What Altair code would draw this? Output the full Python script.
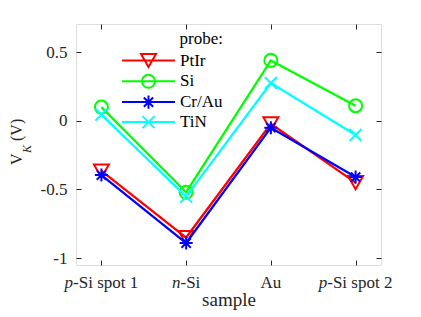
import altair as alt
import pandas as pd

# ---------------- data ----------------
samples = ["p-Si spot 1", "n-Si", "Au", "p-Si spot 2"]
sample_prefix = ["p", "n", "", "p"]          # italic part of each tick label
sample_rest = ["-Si spot 1", "-Si", "Au", "-Si spot 2"]
probes = ["PtIr", "Si", "Cr/Au", "TiN"]
v_ptir = [-0.365, -0.85, -0.022, -0.45]
v_si = [0.10, -0.52, 0.44, 0.11]
v_crau = [-0.395, -0.89, -0.05, -0.41]
v_tin = [0.045, -0.552, 0.275, -0.103]
colors = ["#ff0000", "#00ff00", "#0000ff", "#00ffff"]
y_ticks = [-1, -0.5, 0, 0.5]

# marker paths (unit coordinates, scaled by sqrt(size)/2)
marker_paths = [
    "M-1,-0.87L1,-0.87L0,0.87Z",
    "M0.87,0A0.87,0.87,0,1,1,-0.87,0A0.87,0.87,0,1,1,0.87,0Z",
    "M0,-0.87L0,0.87M-0.87,0L0.87,0M-0.62,-0.62L0.62,0.62M-0.62,0.62L0.62,-0.62",
    "M-0.8,-0.8L0.8,0.8M-0.8,0.8L0.8,-0.8",
]
legend_line = "M-3.53,0L3.53,0"
legend_paths = [legend_line + p for p in marker_paths]

W, H = 305, 241
X_DOM = [0.7, 4.3]
Y_DOM = [-1.05, 0.705]
FONT = "Liberation Serif"
AX = "#262626"
TICK_FS = 17

series = [v_ptir, v_si, v_crau, v_tin]
rows = []
for p, vals in zip(probes, series):
    for i, (s, v) in enumerate(zip(samples, vals)):
        rows.append({"probe": p, "sample": s, "idx": i + 1, "v": v})
df = pd.DataFrame(rows)

# approximate Times advance widths (per em) to center the two-style tick labels
REG = {"-": .333, "S": .556, "i": .278, " ": .25, "s": .389, "p": .5, "o": .5,
       "t": .278, "1": .5, "2": .5, "A": .722, "u": .5, "n": .5}
ITA = {"p": .5, "n": .5}
ppu = W / (X_DOM[1] - X_DOM[0])
lab_rows = []
for i, (pre, rest) in enumerate(zip(sample_prefix, sample_rest)):
    wp = sum(ITA.get(c, .5) for c in pre) * TICK_FS
    wr = sum(REG.get(c, .5) for c in rest) * TICK_FS
    dx = (wp - wr) / 2.0
    lab_rows.append({"idx": i + 1, "xj": i + 1 + dx / ppu, "pre": pre, "rest": rest})
lab_df = pd.DataFrame(lab_rows)

x_scale = alt.Scale(domain=X_DOM, nice=False, zero=False)
y_scale = alt.Scale(domain=Y_DOM, nice=False, zero=False)

x_axis = alt.Axis(values=[1, 2, 3, 4], labels=False, ticks=True, tickSize=5,
                  offset=-5, domain=False, grid=False, tickColor=AX,
                  title="sample", titleFont=FONT, titleFontSize=19,
                  titleFontWeight="normal", titleColor=AX, titlePadding=25)
y_axis = alt.Axis(values=y_ticks, labelExpr="'' + datum.value", tickSize=5,
                  offset=-5, domain=False, grid=False, tickColor=AX,
                  labelFont=FONT, labelFontSize=TICK_FS, labelColor=AX,
                  labelPadding=9, title=None)

layers = []
for p, c, path in zip(probes, colors, marker_paths):
    base = alt.Chart(df).transform_filter(alt.datum.probe == p)
    line = base.mark_line(color=c, strokeWidth=2.3).encode(
        x=alt.X("idx:Q", scale=x_scale, axis=x_axis),
        y=alt.Y("v:Q", scale=y_scale, axis=y_axis),
        order="idx:Q",
    )
    pts = base.mark_point(shape=path, size=225, filled=False, color=c,
                          strokeWidth=2, opacity=1).encode(
        x=alt.X("idx:Q", scale=x_scale, axis=x_axis),
        y=alt.Y("v:Q", scale=y_scale, axis=y_axis),
    )
    layers += [line, pts]

leg = alt.Legend(orient="none", legendX=64, legendY=7, title="probe:",
                 titleFont=FONT, titleFontSize=17, titleFontWeight="normal",
                 titleColor="#000000", titleAnchor="end", titlePadding=4,
                 labelFont=FONT, labelFontSize=17, labelColor="#000000",
                 labelOffset=23, labelLimit=300, symbolSize=225,
                 symbolStrokeWidth=2, symbolOpacity=1, rowPadding=-2.2, padding=0)
proxy = alt.Chart(df).transform_filter("false").mark_point(
    size=225, filled=False, strokeWidth=2, opacity=1).encode(
    color=alt.Color("probe:N", scale=alt.Scale(domain=probes, range=colors), legend=leg),
    shape=alt.Shape("probe:N", scale=alt.Scale(domain=probes, range=legend_paths), legend=leg),
)

pre_text = alt.Chart(lab_df).mark_text(
    align="right", baseline="alphabetic", font=FONT, fontSize=TICK_FS,
    fontStyle="italic", color=AX).encode(
    x=alt.X("xj:Q", scale=x_scale, axis=x_axis), y=alt.value(H + 23), text="pre:N")
rest_text = alt.Chart(lab_df).mark_text(
    align="left", baseline="alphabetic", font=FONT, fontSize=TICK_FS,
    color=AX).encode(
    x=alt.X("xj:Q", scale=x_scale, axis=x_axis), y=alt.value(H + 23), text="rest:N")

one = pd.DataFrame({"a": [0]})
yt_v = alt.Chart(one).mark_text(text="V", angle=270, align="left", baseline="alphabetic",
                                font=FONT, fontSize=16, color=AX).encode(
    x=alt.value(-54), y=alt.value(141))
yt_k = alt.Chart(one).mark_text(text="K", angle=270, align="left", baseline="alphabetic",
                                font=FONT, fontSize=12, fontStyle="italic", color=AX).encode(
    x=alt.value(-45), y=alt.value(129))
yt_u = alt.Chart(one).mark_text(text="(V)", angle=270, align="left", baseline="alphabetic",
                                font=FONT, fontSize=16, color=AX).encode(
    x=alt.value(-54), y=alt.value(117))

main = alt.layer(*layers, proxy, pre_text, rest_text, yt_v, yt_k, yt_u)

frame = alt.Chart(df).mark_point(opacity=0).encode(
    x=alt.X("idx:Q", scale=x_scale,
            axis=alt.Axis(orient="top", values=[1, 2, 3, 4], labels=False, tickSize=5,
                          offset=-5, domain=False, grid=False, tickColor=AX, title=None)),
    y=alt.Y("v:Q", scale=y_scale,
            axis=alt.Axis(orient="right", values=y_ticks, labels=False, tickSize=5,
                          offset=-5, domain=False, grid=False, tickColor=AX, title=None)),
)

chart = alt.layer(main, frame).resolve_scale(x="independent", y="independent").properties(
    width=W, height=H,
    autosize=alt.AutoSizeParams(type="none"),
    padding={"left": 68, "top": 16, "right": 32, "bottom": 50},
).configure_view(stroke=AX, strokeWidth=1).configure(font=FONT).configure_axis(
    labelFont=FONT, titleFont=FONT, labelFontSize=TICK_FS, titleFontSize=19,
    titleFontWeight="normal", labelColor=AX, titleColor=AX
).configure_legend(labelFont=FONT, titleFont=FONT)

chart.save("out.html", embed_options={"renderer": "svg", "actions": False})
